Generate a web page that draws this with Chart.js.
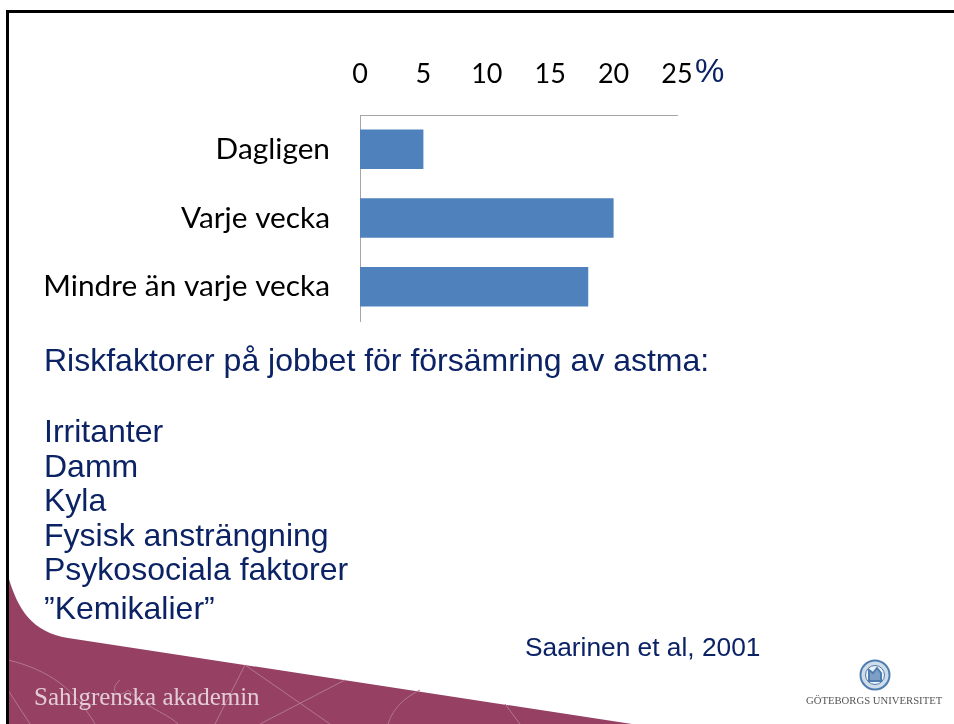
<!DOCTYPE html>
<html lang="sv"><head><meta charset="utf-8">
<style>
html,body{margin:0;padding:0;background:#fff;width:954px;height:724px;overflow:hidden}
#wrap{position:relative;width:954px;height:724px;overflow:hidden}
svg.bg,canvas{position:absolute;left:0;top:0}
.t{position:absolute;white-space:nowrap;font-family:"Liberation Sans",Arial,sans-serif;color:#0b2265;line-height:1}
</style>
<script src="https://cdn.jsdelivr.net/npm/chart.js@4"></script>
</head><body>
<div id="wrap">
<svg class="bg" width="954" height="724" viewBox="0 0 954 724">
  <path d="M8 576 C18 610 32 632 68 638 L632 724 L8 724 Z" fill="#964164"/>
  <g fill="none" stroke="#b47590" stroke-width="1">
    <path d="M8 660 C50 670 75 690 95 724"/>
    <path d="M245 665 L215 724 M245 665 L330 724 M345 680 L260 724"/>
    <path d="M420 690 C400 700 392 712 388 724"/>
    <path d="M505 704 L520 724"/>
    <path d="M120 680 C108 690 118 700 128 690 C150 710 165 712 178 724"/>
    <path d="M8 690 L30 724"/>
  </g>
  <rect x="6" y="10" width="948" height="3" fill="#000"/>
  <rect x="6" y="10" width="3" height="714" fill="#000"/>
  <g fill="none" stroke="#4f7db0">
    <circle cx="875" cy="675" r="14.5" stroke-width="2" fill="#cfdcea"/>
    <circle cx="875" cy="675" r="9.5" stroke-width="1" fill="#eef3f8"/>
    <path d="M869 681 L869 670 L873 673 L877 668 L881 673 L881 681 Z" stroke-width="2" fill="#7d9fc5"/>
  </g>
</svg>
<canvas id="c" width="954" height="724"></canvas>
<div class="t" style="left:695px;top:54px;font-size:33px">%</div>
<div class="t" style="left:44px;top:344px;font-size:32px">Riskfaktorer på jobbet för försämring av astma:</div>
<div class="t" style="left:44px;top:415px;font-size:32px">Irritanter</div>
<div class="t" style="left:44px;top:450px;font-size:32px">Damm</div>
<div class="t" style="left:44px;top:484px;font-size:32px">Kyla</div>
<div class="t" style="left:44px;top:519px;font-size:32px">Fysisk ansträngning</div>
<div class="t" style="left:44px;top:553px;font-size:32px">Psykosociala faktorer</div>
<div class="t" style="left:44px;top:592px;font-size:32px">”Kemikalier”</div>
<div class="t" style="left:525px;top:634px;font-size:26.3px">Saarinen et al, 2001</div>
<div class="t" style="left:34px;top:684px;font-size:25px;font-family:'Liberation Serif',serif;color:#e3ccd6">Sahlgrenska akademin</div>
<div class="t" style="left:806px;top:695px;font-size:10.7px;font-family:'Liberation Serif',serif;color:#555">GÖTEBORGS UNIVERSITET</div>
</div>
<script>
const categories = ["Dagligen", "Varje vecka", "Mindre än varje vecka"];
const values = [5, 20, 18];
const xMax = 25;
const xStep = 5;
new Chart(document.getElementById("c"), {
  type: "bar",
  data: { labels: categories, datasets: [{ data: values, backgroundColor: "#4f81bd", barPercentage: 0.575, categoryPercentage: 1 }] },
  options: {
    indexAxis: "y", responsive: false, animation: false,
    layout: { padding: { left: 0, top: 0, right: 277, bottom: 403 } },
    plugins: { legend: { display: false }, tooltip: { enabled: false } },
    scales: {
      x: {
        position: "top", min: 0, max: xMax,
        grid: { display: false, drawTicks: false },
        border: { display: true, color: "#a6a6a6", width: 1 },
        ticks: { stepSize: xStep, color: "#000", padding: 25, maxRotation: 0, font: { family: "Lato", size: 27 } },
        afterFit(s) { s.height = 115; }
      },
      y: {
        grid: { display: false, drawTicks: false },
        border: { display: true, color: "#a6a6a6", width: 1 },
        ticks: { color: "#000", padding: 30, font: { family: "Lato", size: 29.8 } },
        afterFit(s) { s.width = 360; }
      }
    }
  }
});
</script>
</body></html>
